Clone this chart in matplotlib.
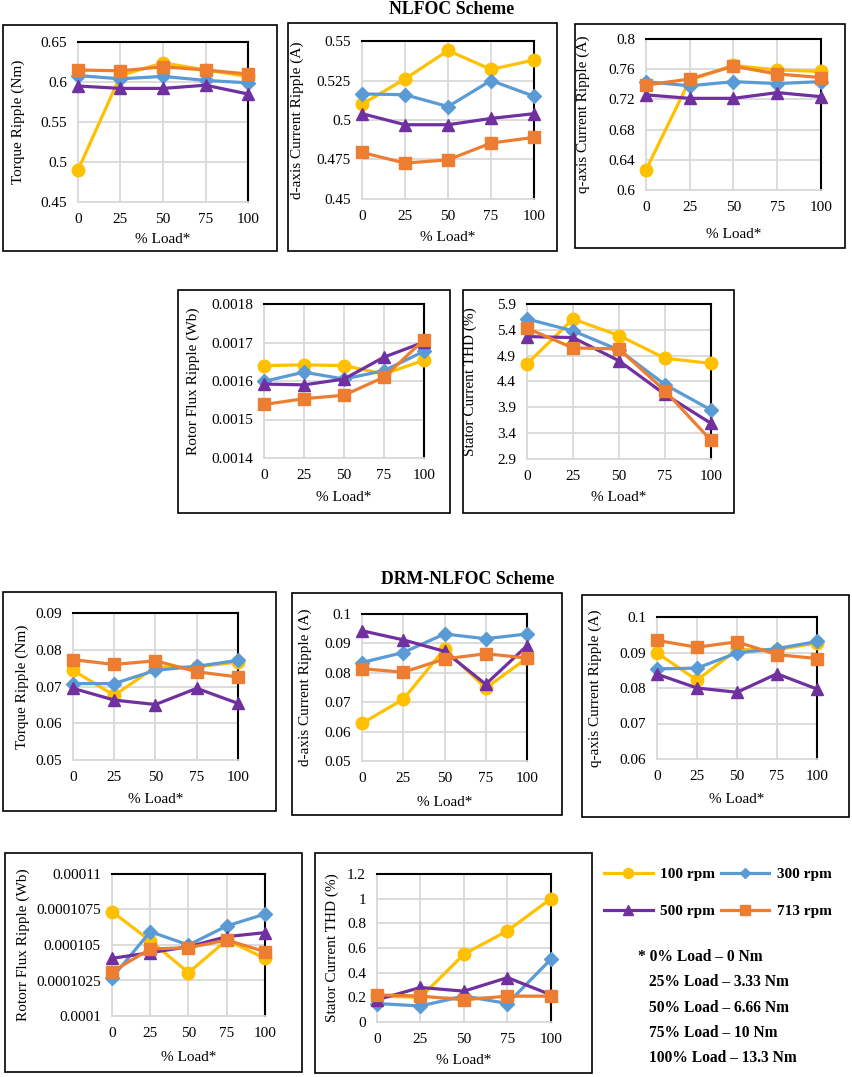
# NLFOC vs DRM-NLFOC ripple / THD comparison, 10 small panels
import numpy as np
import matplotlib.pyplot as plt
from matplotlib.patches import Rectangle
from matplotlib.lines import Line2D
from matplotlib.ticker import FuncFormatter

plt.rcParams['font.family'] = ['Liberation Serif', 'DejaVu Serif']

loads = [0, 25, 50, 75, 100]
speeds = ['100 rpm', '300 rpm', '500 rpm', '713 rpm']
colors = ['#FFC000', '#5B9BD5', '#7030A0', '#ED7D31']
markers = ['o', 'D', '^', 's']
msizes = [9, 7, 9, 8.5]

# NLFOC scheme (rows: 100, 300, 500, 713 rpm)
nl_torque = [[0.490, 0.608, 0.624, 0.615, 0.607],
             [0.608, 0.604, 0.607, 0.602, 0.599],
             [0.595, 0.592, 0.592, 0.596, 0.585],
             [0.615, 0.614, 0.619, 0.615, 0.610]]
nl_id = [[0.510, 0.526, 0.544, 0.532, 0.538],
         [0.5165, 0.516, 0.5085, 0.525, 0.515],
         [0.504, 0.497, 0.497, 0.501, 0.504],
         [0.4795, 0.4727, 0.4748, 0.4854, 0.489]]
nl_iq = [[0.6265, 0.7457, 0.765, 0.759, 0.757],
         [0.7435, 0.738, 0.7435, 0.741, 0.7435],
         [0.726, 0.7214, 0.7214, 0.729, 0.7236],
         [0.739, 0.747, 0.764, 0.7536, 0.749]]
nl_flux = [[0.001640, 0.001642, 0.001640, 0.001618, 0.001654],
           [0.001599, 0.001623, 0.001605, 0.001627, 0.001677],
           [0.001592, 0.001590, 0.001605, 0.001662, 0.001701],
           [0.001539, 0.001554, 0.001563, 0.001610, 0.001707]]
nl_thd = [[4.74, 5.61, 5.29, 4.85, 4.75],
          [5.61, 5.38, 5.01, 4.34, 3.85],
          [5.27, 5.25, 4.80, 4.15, 3.59],
          [5.43, 5.05, 5.03, 4.22, 3.26]]

# DRM-NLFOC scheme
drm_torque = [[0.0744, 0.0676, 0.0753, 0.0753, 0.0767],
              [0.0708, 0.0708, 0.0744, 0.0755, 0.0771],
              [0.0695, 0.0663, 0.0651, 0.0695, 0.0654],
              [0.0773, 0.0760, 0.0770, 0.0740, 0.0726]]
drm_id = [[0.0628, 0.0710, 0.0881, 0.0748, 0.0850],
          [0.0835, 0.0869, 0.0932, 0.0916, 0.0932],
          [0.0943, 0.0912, 0.0873, 0.0761, 0.0892],
          [0.0814, 0.0802, 0.0847, 0.0865, 0.0850]]
drm_iq = [[0.0899, 0.0822, 0.0908, 0.0908, 0.0927],
          [0.0854, 0.0856, 0.0899, 0.0911, 0.0931],
          [0.0839, 0.0800, 0.0788, 0.0840, 0.0797],
          [0.0934, 0.0915, 0.0930, 0.0894, 0.0883]]
drm_flux = [[0.00010735, 0.0001053, 0.00010305, 0.00010535, 0.00010406],
            [0.0001027, 0.00010594, 0.000105, 0.00010634, 0.00010718],
            [0.00010406, 0.00010446, 0.00010488, 0.00010559, 0.00010587],
            [0.00010312, 0.00010472, 0.00010481, 0.00010535, 0.00010453]]
drm_thd = [[0.21, 0.20, 0.55, 0.74, 1.00],
           [0.15, 0.13, 0.21, 0.15, 0.51],
           [0.18, 0.28, 0.25, 0.36, 0.22],
           [0.22, 0.21, 0.18, 0.21, 0.21]]

notes = ['* 0% Load \u2013 0 Nm', '25% Load \u2013 3.33 Nm', '50% Load \u2013 6.66 Nm',
         '75% Load \u2013 10 Nm', '100% Load \u2013 13.3 Nm']

W, H = 853, 1077
fig = plt.figure(figsize=(W / 100, H / 100), dpi=100)


def frac(l, t, r, b):
    return [l / W, 1 - b / H, (r - l) / W, (b - t) / H]


# data, ylabel, (ymin, ymax, step), plot area, frame, ylabel x, xlabel y   (pixels)
panels = [
    (nl_torque, 'Torque Ripple (Nm)', (0.45, 0.65, 0.05), (78, 42, 248, 202), (3, 25, 277, 251), 18, 240),
    (nl_id, 'd-axis Current Ripple (A)', (0.45, 0.55, 0.025), (362, 41, 534, 199), (288, 23, 557, 251), 297, 238),
    (nl_iq, 'q-axis Current Ripple (A)', (0.6, 0.8, 0.04), (646, 39, 821, 190), (575, 24, 845, 248), 583, 235),
    (nl_flux, 'Rotor Flux Ripple (Wb)', (0.0014, 0.0018, 0.0001), (264, 304, 424, 458), (178, 290, 450, 513), 193, 498),
    (nl_thd, 'Stator Current THD (%)', (2.9, 5.9, 0.5), (527, 304, 711, 459), (463, 290, 734, 513), 470, 498),
    (drm_torque, 'Torque Ripple (Nm)', (0.05, 0.09, 0.01), (73, 613, 238, 760), (3, 592, 276, 811), 22, 800),
    (drm_id, 'd-axis Current Ripple (A)', (0.05, 0.1, 0.01), (362, 614, 527, 761), (292, 593, 562, 815), 305, 803),
    (drm_iq, 'q-axis Current Ripple (A)', (0.06, 0.1, 0.01), (657, 617, 817, 759), (582, 595, 849, 817), 595, 800),
    (drm_flux, 'Rotorr Flux Ripple (Wb)', (0.0001, 0.00011, 0.0000025), (112, 874, 265, 1016), (5, 853, 302, 1072), 23, 1058),
    (drm_thd, 'Stator Current THD (%)', (0, 1.2, 0.2), (377, 874, 551, 1022), (315, 853, 592, 1073), 332, 1061),
]

for data, ylab, (lo, hi, step), (l, t, r, b), frame, ylx, xly in panels:
    ax = fig.add_axes(frac(l, t, r, b))
    for vals, c, m, ms in zip(data, colors, markers, msizes):
        ax.plot(loads, vals, color=c, lw=2.3, marker=m, ms=ms, clip_on=False, zorder=3)
    ax.set_xlim(0, 100)
    ax.set_xticks(loads)
    ax.set_ylim(lo, hi)
    ax.set_yticks(np.linspace(lo, hi, int(round((hi - lo) / step)) + 1))
    ax.yaxis.set_major_formatter(FuncFormatter(lambda v, p: f'{v:.6g}'))
    ax.grid(True, color='#D9D9D9', lw=1.3)
    ax.set_axisbelow(True)
    for s in ['top', 'right']:
        ax.spines[s].set_color('black')
        ax.spines[s].set_linewidth(1.5)
    for s in ['left', 'bottom']:
        ax.spines[s].set_color('#D9D9D9')
        ax.spines[s].set_linewidth(1.3)
    ax.tick_params(length=0, pad=8, labelsize=11)
    ax.set_ylabel(ylab, fontsize=11)
    ax.set_xlabel('% Load*', fontsize=11)
    ax.yaxis.set_label_coords((ylx + 7 - l) / (r - l), 0.5)
    ax.xaxis.set_label_coords(0.5, (b - (xly - 7)) / (b - t))
    fl, ft, fr, fb = frame
    fig.add_artist(Rectangle((fl / W, 1 - fb / H), (fr - fl) / W, (fb - ft) / H,
                             transform=fig.transFigure, fill=False, ec='black', lw=1.2))

fig.text(452 / W, 1 - 10 / H, 'NLFOC Scheme', ha='center', va='center', fontsize=12.8, fontweight='bold')
fig.text(468 / W, 1 - 579 / H, 'DRM-NLFOC Scheme', ha='center', va='center', fontsize=12.8, fontweight='bold')

# legend fills column-wise, so order it to read 100/300 on row 1, 500/713 on row 2
order = [0, 2, 1, 3]
handles = [Line2D([], [], color=colors[i], lw=2.3, marker=markers[i], ms=msizes[i] * 0.8) for i in order]
fig.legend(handles, [speeds[i] for i in order], ncol=2, loc='upper left', bbox_to_anchor=(596 / W, 1 - 860 / H),
           frameon=False, borderpad=0, handlelength=3.2, handletextpad=0.5, columnspacing=0.35,
           labelspacing=1.5, prop={'weight': 'bold', 'size': 11})

for i, txt in enumerate(notes):
    x = 638 if i == 0 else 649
    fig.text(x / W, 1 - (957 + i * 25.3) / H, txt, ha='left', va='center', fontsize=11.2, fontweight='bold')

fig.savefig('out.png', dpi=100)
